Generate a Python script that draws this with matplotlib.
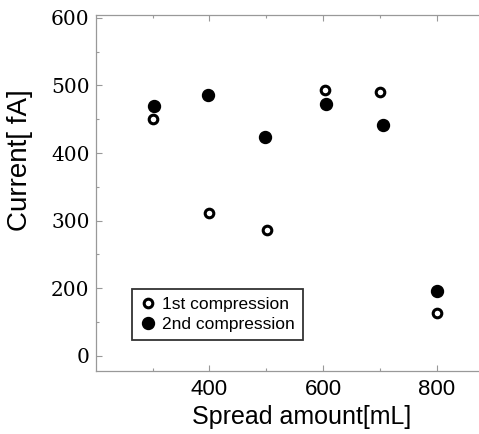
import matplotlib
matplotlib.use("Agg")
import matplotlib.pyplot as plt

# spread amount (mL) and current readings
x_first = [300, 400, 502, 603, 700, 800]
y_first = [450, 311, 286, 494, 491, 164]
x_second = [302, 398, 498, 605, 705, 800]
y_second = [470, 486, 424, 472, 442, 196]

ytick_pos = [100, 200, 300, 400, 500, 600]
ytick_labels = ["0", "200", "300", "400", "500", "600"]
xtick_major = [400, 600, 800]
xtick_minor = [300, 500, 700]

plt.rcParams['font.family'] = ['Liberation Sans', 'DejaVu Sans']

fig = plt.figure(figsize=(4.79, 4.34), dpi=100)
ax = fig.add_axes([0.2, 0.146, 0.83, 0.819])

ax.plot(x_first, y_first, 'o', ms=6.2, mfc='white', mec='black', mew=2.2,
        label='1st compression', zorder=3)
ax.plot(x_second, y_second, 'o', ms=8.6, mfc='black', mec='black', mew=1,
        label='2nd compression', zorder=3)

ax.set_xlim(200, 900)
ax.set_ylim(78, 604)
ax.set_xticks(xtick_major)
ax.set_xticks(xtick_minor, minor=True)
ax.set_yticks(ytick_pos)
ax.set_yticklabels(ytick_labels, family='DejaVu Serif')
ax.set_yticks([150, 250, 350, 450, 550], minor=True)

ax.tick_params(which='both', direction='in', top=True, color='#999999',
               length=4, width=0.8)
ax.tick_params(axis='x', labelsize=16, pad=6)
ax.tick_params(axis='y', labelsize=14.5, pad=4.5)
ax.tick_params(which='minor', length=2.5)
for s in ax.spines.values():
    s.set_color('#999999')
    s.set_linewidth(0.9)
    s.set_linestyle((0, (1, 1)))
ax.spines['right'].set_visible(False)

ax.set_xlabel('Spread amount[mL]', fontsize=18)
ax.xaxis.set_label_coords(0.517, -0.096)
ax.set_ylabel('Current[ fA]', fontsize=20)
ax.yaxis.set_label_coords(-0.158, 0.592)

leg = ax.legend(loc='lower left', bbox_to_anchor=(0.09, 0.086), fontsize=12.5,
                frameon=True, fancybox=False, handletextpad=0.3,
                borderpad=0.45, handlelength=1.0, labelspacing=0.3,
                borderaxespad=0)
leg.get_frame().set_edgecolor('black')
leg.get_frame().set_linewidth(1.3)

fig.savefig('out.png', dpi=100)
